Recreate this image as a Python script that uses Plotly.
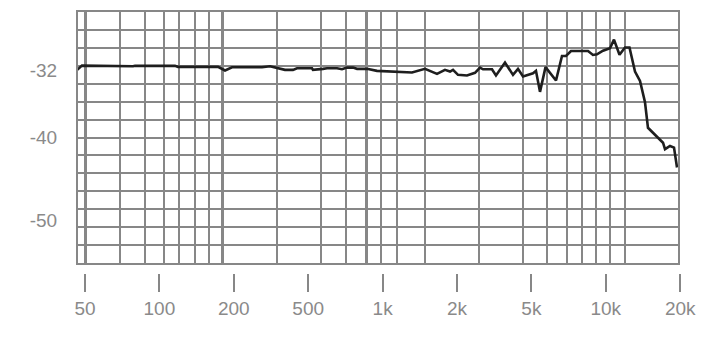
import numpy as np
import plotly.graph_objects as go

# Tick labels (equally spaced on the chart)
tick_freqs = [50, 100, 200, 500, 1000, 2000, 5000, 10000, 20000]
tick_text = ["50", "100", "200", "500", "1k", "2k", "5k", "10k", "20k"]

# Frequency response (Hz, dB)
freq = [46.5, 48.6, 78.2, 79.7, 115.6, 118.9, 172.6, 184.3, 196.7, 283, 312.4, 332,
        375.7, 414.7, 435.7, 518, 522.7, 574, 596, 654, 685, 717.6, 759, 788, 864.6,
        949, 1071, 1315, 1484, 1660, 1788, 1874, 1927, 2025, 2261, 2496, 2655, 2755,
        3077, 3233, 3612, 3986, 4239, 4509, 5075, 5217, 5417, 5703, 6288, 6648, 6902,
        7230, 8473, 8876, 9214, 9742, 10399, 10792, 11361, 11958, 12469, 13126, 13753,
        14408, 14815, 15812, 17042, 17362, 18188, 18880, 19414]
level = [-31.94, -31.43, -31.51, -31.46, -31.46, -31.58, -31.58, -32.02, -31.63, -31.63,
         -31.51, -31.67, -31.94, -31.94, -31.75, -31.75, -31.94, -31.82, -31.75, -31.75,
         -31.87, -31.67, -31.67, -31.82, -31.82, -32.06, -32.14, -32.26, -31.82, -32.42,
         -31.94, -32.14, -31.94, -32.54, -32.62, -32.30, -31.67, -31.87, -31.87, -32.62,
         -31.07, -32.54, -31.82, -32.74, -32.35, -32.06, -34.58, -31.61, -33.21, -30.27,
         -30.27, -29.68, -29.68, -30.15, -30.08, -29.64, -29.35, -28.31, -30.12, -29.25,
         -29.25, -32.14, -33.27, -35.83, -38.89, -39.76, -40.68, -41.46, -41.07, -41.27,
         -43.65]

y_ticks = [-32, -40, -50]

# Decorative grid positions (in tick-index units of the x scale)
grid_x = [0.47, 0.81, 1.06, 1.26, 1.48, 1.67, 2.58, 3.17, 3.51, 3.98, 4.19, 4.57,
          5.30, 5.89, 6.21, 6.48, 6.68, 6.87, 7.06, 7.26]
grid_x_major = [0, 1.85, 3.78]
n_hgrid = 14

# piecewise-log scale: ticks equally spaced
def to_index(f):
    lf = np.log10(np.asarray(f, dtype=float))
    lt = np.log10(tick_freqs)
    idx = np.interp(lf, lt, np.arange(len(tick_freqs)))
    lo = lf < lt[0]
    idx[lo] = (lf[lo] - lt[0]) / (lt[1] - lt[0])
    return idx

xi = to_index(freq)

GRAY = "#878787"
FONT = dict(family="Liberation Sans, Arial, sans-serif", size=19, color="#8a8a8a")

fig = go.Figure()
# helper (invisible) traces so that the overlay / tick axes are rendered
fig.add_trace(go.Scatter(x=[None], y=[None], xaxis="x2", yaxis="y3",
                         showlegend=False, hoverinfo="skip"))
fig.add_trace(go.Scatter(x=[None], y=[None], xaxis="x", yaxis="y2",
                         showlegend=False, hoverinfo="skip"))
fig.add_trace(go.Scatter(x=[None], y=[None], xaxis="x3", yaxis="y",
                         showlegend=False, hoverinfo="skip"))
fig.add_trace(go.Scatter(x=xi, y=level, mode="lines",
                         line=dict(color="#1e1e1e", width=2.6),
                         xaxis="x", yaxis="y", showlegend=False, hoverinfo="skip"))

x_lo, x_hi = -0.0941, 7.9704
x2_hi = 8.1317
y_lo, y_hi = -55.119, -25.0

fig.update_layout(
    width=717, height=344,
    margin=dict(l=78, r=27, t=10, b=71),
    paper_bgcolor="white", plot_bgcolor="rgba(0,0,0,0)",
    font=FONT,
    xaxis=dict(domain=[0, 600 / 612], range=[x_lo, x_hi], anchor="y",
               tickvals=grid_x, showticklabels=False, ticks="",
               showgrid=True, gridcolor=GRAY, gridwidth=1.6,
               showline=True, mirror=True, linecolor=GRAY, linewidth=2,
               zeroline=False, fixedrange=True),
    xaxis3=dict(overlaying="x", range=[x_lo, x_hi], anchor="y",
                tickvals=grid_x_major, showticklabels=False, ticks="",
                showgrid=True, gridcolor=GRAY, gridwidth=3, zeroline=False,
                showline=False),
    xaxis2=dict(domain=[0, 1], range=[x_lo, x2_hi], anchor="free", position=0,
                tickvals=list(range(len(tick_text))), ticktext=tick_text,
                ticks="outside", ticklen=18, tickwidth=2, tickcolor=GRAY,
                showgrid=False, showline=False, zeroline=False,
                ticklabelstandoff=0, tickfont=FONT),
    yaxis=dict(domain=[10 / 263, 1], range=[y_lo, y_hi], anchor="x",
               tickvals=y_ticks, ticktext=[str(v) for v in y_ticks],
               ticks="", showgrid=False, zeroline=False,
               showline=True, mirror=True, linecolor=GRAY, linewidth=2,
               ticklabelstandoff=15, tickfont=FONT),
    yaxis2=dict(overlaying="y", anchor="x", range=[0, n_hgrid],
                tickvals=list(range(n_hgrid + 1)), showticklabels=False, ticks="",
                showgrid=True, gridcolor=GRAY, gridwidth=1.6, zeroline=False,
                showline=False, side="right"),
    yaxis3=dict(domain=[10 / 263, 1], anchor="x2", visible=False, range=[0, 1],
                showgrid=False, zeroline=False),
)

fig.write_html("out.html")
